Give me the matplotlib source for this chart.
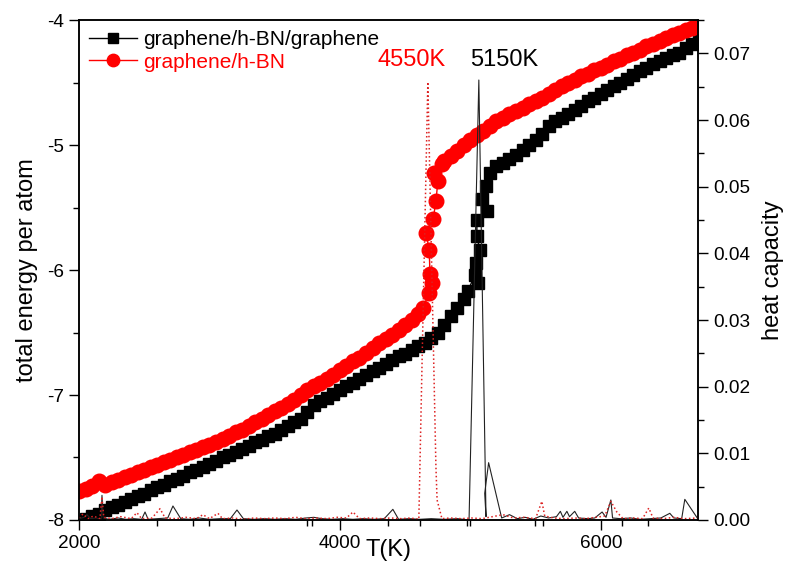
import numpy as np
import matplotlib.pyplot as plt
from matplotlib.ticker import MultipleLocator, FixedLocator, FormatStrFormatter

plt.rcParams['font.family'] = ['Liberation Sans', 'DejaVu Sans']
plt.rcParams['axes.unicode_minus'] = False

# total energy per atom, graphene/h-BN/graphene (black squares)
T_gbg = [2000, 2050, 2100, 2150, 2200, 2250, 2300, 2350, 2400, 2450, 2500, 2550, 2600, 2650,
         2700, 2750, 2800, 2850, 2900, 2950, 3000, 3050, 3100, 3150, 3200, 3250, 3300, 3350,
         3400, 3450, 3500, 3550, 3600, 3650, 3700, 3750, 3800, 3850, 3900, 3950, 4000, 4050,
         4100, 4150, 4200, 4250, 4300, 4350, 4400, 4450, 4500, 4550, 4600, 4650, 4700, 4750,
         4800, 4850, 4900, 4950, 4980,
         5034, 5057, 5042, 5073, 5050, 5050, 5126, 5088, 5119,
         5150, 5200, 5250, 5300, 5350, 5400, 5450, 5500, 5550, 5600, 5650, 5700, 5750, 5800,
         5850, 5900, 5950, 6000, 6050, 6100, 6150, 6200, 6250, 6300, 6350, 6400, 6450, 6500,
         6550, 6600, 6650, 6700, 6750]
E_gbg = [-8.02, -7.99, -7.97, -7.95, -7.92, -7.90, -7.88, -7.86, -7.83, -7.81, -7.79, -7.76,
         -7.74, -7.72, -7.69, -7.67, -7.65, -7.62, -7.60, -7.58, -7.55, -7.53, -7.50, -7.48,
         -7.46, -7.43, -7.41, -7.38, -7.36, -7.33, -7.31, -7.28, -7.25, -7.22, -7.19, -7.14,
         -7.08, -7.05, -7.02, -6.99, -6.96, -6.93, -6.90, -6.87, -6.84, -6.81, -6.78, -6.75,
         -6.72, -6.69, -6.67, -6.64, -6.61, -6.58, -6.54, -6.50, -6.44, -6.37, -6.30, -6.23,
         -6.17,
         -6.04, -6.10, -5.94, -5.84, -5.73, -5.60, -5.53, -5.43, -5.33,
         -5.22, -5.17, -5.14, -5.11, -5.08, -5.04, -5.00, -4.96, -4.91, -4.85, -4.81, -4.78,
         -4.75, -4.72, -4.69, -4.65, -4.62, -4.59, -4.56, -4.53, -4.50, -4.47, -4.44, -4.41,
         -4.38, -4.35, -4.33, -4.30, -4.28, -4.26, -4.22, -4.19, -4.16]

# total energy per atom, graphene/h-BN (red circles)
T_gb = [2000, 2050, 2100, 2150, 2200, 2250, 2300, 2350, 2400, 2450, 2500, 2550, 2600, 2650,
        2700, 2750, 2800, 2850, 2900, 2950, 3000, 3050, 3100, 3150, 3200, 3250, 3300, 3350,
        3400, 3450, 3500, 3550, 3600, 3650, 3700, 3750, 3800, 3850, 3900, 3950, 4000, 4050,
        4100, 4150, 4200, 4250, 4300, 4350, 4400, 4450, 4500, 4550, 4600, 4640,
        4682, 4705, 4690, 4685, 4659, 4715, 4736, 4751, 4720,
        4780, 4800, 4850, 4900, 4950, 5000, 5050, 5100, 5150, 5200, 5250, 5300, 5350, 5400,
        5450, 5500, 5550, 5600, 5650, 5700, 5750, 5800, 5850, 5900, 5950, 6000, 6050, 6100,
        6150, 6200, 6250, 6300, 6350, 6400, 6450, 6500, 6550, 6600, 6650, 6700, 6750]
E_gb = [-7.77, -7.75, -7.73, -7.69, -7.72, -7.70, -7.68, -7.66, -7.64, -7.62, -7.60, -7.58,
        -7.56, -7.54, -7.52, -7.50, -7.48, -7.46, -7.44, -7.42, -7.40, -7.38, -7.35, -7.33,
        -7.30, -7.28, -7.25, -7.22, -7.19, -7.16, -7.13, -7.10, -7.07, -7.04, -7.00, -6.96,
        -6.93, -6.90, -6.87, -6.84, -6.80, -6.77, -6.73, -6.70, -6.66, -6.62, -6.58, -6.55,
        -6.52, -6.48, -6.44, -6.40, -6.35, -6.30,
        -6.18, -6.10, -6.03, -5.84, -5.70, -5.59, -5.45, -5.29, -5.22,
        -5.15, -5.13, -5.09, -5.05, -5.00, -4.96, -4.92, -4.89, -4.85, -4.81, -4.78, -4.75,
        -4.73, -4.70, -4.67, -4.65, -4.62, -4.59, -4.56, -4.53, -4.50, -4.48, -4.45, -4.43,
        -4.40, -4.38, -4.36, -4.33, -4.31, -4.28, -4.26, -4.24, -4.21, -4.19, -4.17, -4.14,
        -4.12, -4.10, -4.08, -4.06, -4.03]

# heat capacity, graphene/h-BN/graphene (black solid)
T_hc_gbg = [2000, 2040, 2061, 2090, 2130, 2170, 2176, 2185, 2230, 2300, 2360, 2420, 2480, 2506,
            2530, 2600, 2680, 2720, 2780, 2850, 2920, 3000, 3080, 3160, 3211, 3260, 3340, 3420,
            3500, 3580, 3660, 3740, 3800, 3860, 3940, 4020, 4100, 4180, 4260, 4340, 4406, 4450,
            4530, 4610, 4700, 4800, 4900, 4990, 5065, 5120, 5110, 5140, 5240, 5300, 5360, 5420,
            5480, 5540, 5600, 5660, 5690, 5710, 5740, 5760, 5800, 5830, 5900, 5954, 6010, 6040,
            6077, 6090, 6150, 6230, 6300, 6380, 6460, 6529, 6560, 6620, 6644, 6743]
C_hc_gbg = [0.0002, 0.0004, 0.0008, 0.0002, 0.0003, 0.0001, 0.0037, 0.0003, 0.0001, 0.0003,
            0.0001, 0.0002, 0.0001, 0.0012, 0.0001, 0.0002, 0.0003, 0.0021, 0.0002, 0.0001,
            0.0003, 0.0001, 0.0002, 0.0002, 0.0015, 0.0002, 0.0001, 0.0002, 0.0001, 0.0002,
            0.0001, 0.0003, 0.0004, 0.0002, 0.0001, 0.0002, 0.0001, 0.0002, 0.0001, 0.0002,
            0.0016, 0.0001, 0.0002, 0.0001, 0.0002, 0.0001, 0.0002, 0.0000, 0.0660, 0.0005,
            0.0040, 0.0086, 0.0003, 0.0008, 0.0002, 0.0004, 0.0001, 0.0006, 0.0003, 0.0005,
            0.0013, 0.0004, 0.0013, 0.0005, 0.0013, 0.0003, 0.0002, 0.0003, 0.0012, 0.0004,
            0.0030, 0.0003, 0.0002, 0.0003, 0.0001, 0.0002, 0.0003, 0.0010, 0.0003, 0.0002,
            0.0031, 0.0002]

# heat capacity, graphene/h-BN (red dotted)
T_hc_gb = [2000, 2030, 2070, 2110, 2160, 2176, 2190, 2250, 2320, 2400, 2444, 2480, 2560, 2621,
           2660, 2740, 2820, 2900, 2950, 3000, 3065, 3100, 3180, 3260, 3340, 3420, 3500, 3580,
           3660, 3740, 3820, 3900, 3980, 4050, 4100, 4150, 4230, 4310, 4390, 4470, 4540, 4605,
           4674, 4736, 4745, 4782, 4850, 4930, 5010, 5090, 5170, 5250, 5330, 5410, 5500, 5548,
           5570, 5640, 5720, 5800, 5880, 5960, 6030, 6077, 6123, 6170, 6250, 6320, 6368, 6400,
           6480, 6560, 6640, 6743]
C_hc_gb = [0.0003, 0.0009, 0.0002, 0.0006, 0.0002, 0.0035, 0.0004, 0.0002, 0.0005, 0.0002,
           0.0011, 0.0002, 0.0003, 0.0017, 0.0003, 0.0002, 0.0004, 0.0002, 0.0008, 0.0002,
           0.0010, 0.0002, 0.0003, 0.0001, 0.0003, 0.0002, 0.0003, 0.0002, 0.0004, 0.0002,
           0.0003, 0.0002, 0.0004, 0.0003, 0.0012, 0.0002, 0.0003, 0.0002, 0.0003, 0.0002,
           0.0003, 0.0001, 0.0657, 0.0080, 0.0030, 0.0002, 0.0003, 0.0002, 0.0003, 0.0002,
           0.0005, 0.0008, 0.0003, 0.0004, 0.0002, 0.0028, 0.0006, 0.0003, 0.0002, 0.0003,
           0.0002, 0.0004, 0.0006, 0.0028, 0.0012, 0.0002, 0.0003, 0.0002, 0.0018, 0.0003,
           0.0002, 0.0004, 0.0002, 0.0003]

x_major = [2000, 4000, 6000]
x_minor = [2598, 2874, 3000, 3195, 3747, 3785, 4368, 4613, 4973, 5000, 5494, 5556, 6161, 6360]

fig = plt.figure(figsize=(7.87, 5.67), dpi=100)
ax = fig.add_axes([0.1004, 0.0829, 0.7865, 0.8818])

ax.plot(T_gbg, E_gbg, color='black', lw=1, marker='s', ms=8.5, mec='black',
        label='graphene/h-BN/graphene')
ax.plot(T_gb, E_gb, color='red', lw=1, marker='o', ms=10.5, mec='red',
        label='graphene/h-BN')

ax.set_xlim(2000, 6745)
ax.set_ylim(-8, -4)
ax.xaxis.set_major_locator(FixedLocator(x_major))
ax.xaxis.set_minor_locator(FixedLocator(x_minor))
ax.yaxis.set_major_locator(MultipleLocator(1))
ax.yaxis.set_minor_locator(MultipleLocator(0.5))
ax.yaxis.set_major_formatter(FormatStrFormatter('%d'))
ax.tick_params(which='both', direction='out', labelsize=13.7, width=1)
ax.tick_params(which='major', length=7.5)
ax.tick_params(which='minor', length=4)
for s in ax.spines.values():
    s.set_linewidth(1.1)

ax.set_ylabel('total energy per atom', fontsize=17, labelpad=6)
ax.set_xlabel('T(K)', fontsize=17)
ax.xaxis.set_label_coords(0.50, -0.06, transform=ax.transAxes)
ax.xaxis.label.set_va('center')

ax.text(4552, -4.32, '4550K', color='red', fontsize=17, ha='center', va='center')
ax.text(5257, -4.32, '5150K', color='black', fontsize=17, ha='center', va='center')

leg = ax.legend(loc='upper left', bbox_to_anchor=(0.0, 1.0), frameon=False, fontsize=15,
                handlelength=2.3, handletextpad=0.3, labelspacing=0.15, borderaxespad=0.3,
                borderpad=0.2, labelcolor='linecolor', markerscale=0.85)

ax2 = ax.twinx()
ax2.plot(T_hc_gbg, C_hc_gbg, color='#222222', lw=0.8)
ax2.plot(T_hc_gb, C_hc_gb, color='#dd2222', lw=1.1, ls=':')
ax2.set_ylim(0, 0.075)
ax2.yaxis.set_major_locator(MultipleLocator(0.01))
ax2.yaxis.set_minor_locator(MultipleLocator(0.005))
ax2.yaxis.set_major_formatter(FormatStrFormatter('%.2f'))
ax2.tick_params(which='both', direction='out', labelsize=13.7, width=1)
ax2.tick_params(which='major', length=7.5)
ax2.tick_params(which='minor', length=4)
ax2.set_ylabel('heat capacity', fontsize=17, labelpad=8)
for s in ax2.spines.values():
    s.set_linewidth(1.1)

fig.savefig('out.png', dpi=100)
